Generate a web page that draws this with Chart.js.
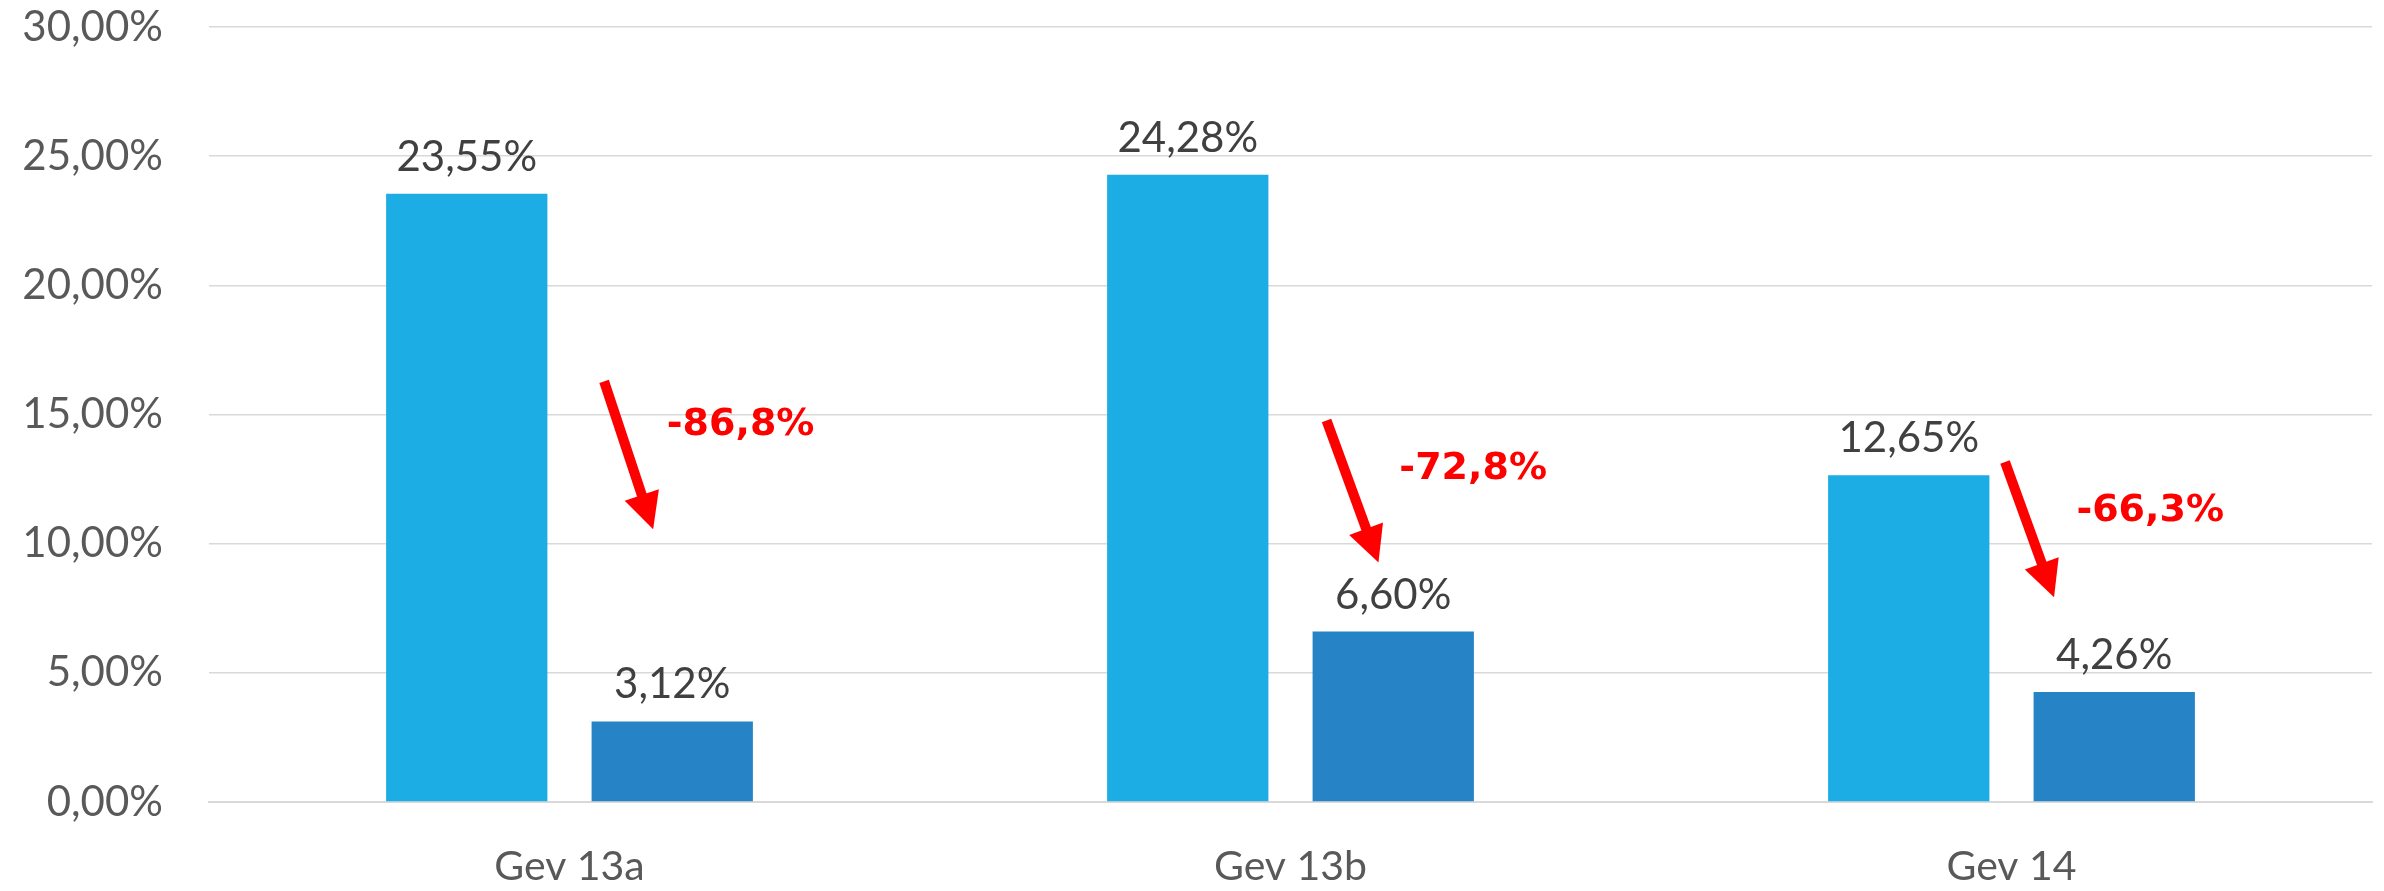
<!DOCTYPE html>
<html>
<head>
<meta charset="utf-8">
<script src="https://cdn.jsdelivr.net/npm/chart.js@4/dist/chart.umd.min.js"></script>
<style>
  html, body { margin: 0; padding: 0; background: #ffffff; }
</style>
</head>
<body>
<canvas id="c" width="2384" height="891" style="width:2384px;height:891px;display:block"></canvas>
<script>
// ---- data ----
const categories = ["Gev 13a", "Gev 13b", "Gev 14"];
const seriesBefore = [23.55, 24.28, 12.65];
const seriesAfter = [3.12, 6.60, 4.26];
const yTicks = [0, 5, 10, 15, 20, 25, 30];

// annotation anchors in data units (category index + fraction of category width, value in %)
const arrowStart = [[0, 0.048, 16.28], [1, 0.050, 14.77], [2, -0.009, 13.16]];
const arrowEnd   = [[0, 0.116, 10.56], [1, 0.122, 9.27], [2, 0.059, 7.93]];
const changeLabelPos = [[0, 0.135, 14.22], [1, 0.151, 12.50], [2, 0.090, 10.86]];

const fmt = v => v.toFixed(2).replace('.', ',') + '%';
const fmtChange = (a, b) => ((b - a) / a * 100).toFixed(1).replace('.', ',') + '%';

const valueLabels = {
  id: 'valueLabels',
  afterDatasetsDraw(chart) {
    const ctx = chart.ctx;
    ctx.save();
    ctx.font = '42px Lato';
    ctx.fillStyle = '#404040';
    ctx.textAlign = 'center';
    ctx.textBaseline = 'alphabetic';
    chart.data.datasets.forEach((ds, di) => {
      const meta = chart.getDatasetMeta(di);
      meta.data.forEach((bar, i) => {
        ctx.fillText(fmt(ds.data[i]), bar.x, bar.y - 23);
      });
    });
    ctx.restore();
  }
};

const changeArrows = {
  id: 'changeArrows',
  afterDatasetsDraw(chart) {
    const ctx = chart.ctx;
    const xs = chart.scales.x, ys = chart.scales.y;
    const catW = xs.getPixelForValue(1) - xs.getPixelForValue(0);
    const px = p => [xs.getPixelForValue(p[0]) + p[1] * catW, ys.getPixelForValue(p[2])];
    ctx.save();
    ctx.fillStyle = '#FF0000';
    ctx.strokeStyle = '#FF0000';
    categories.forEach((c, i) => {
      const [x1, y1] = px(arrowStart[i]);
      const [x2, y2] = px(arrowEnd[i]);
      const dx = x2 - x1, dy = y2 - y1;
      const len = Math.hypot(dx, dy);
      const ux = dx / len, uy = dy / len;
      const headLen = 36, headHalf = 18;
      const bx = x2 - ux * headLen, by = y2 - uy * headLen;
      ctx.lineWidth = 10;
      ctx.lineCap = 'butt';
      ctx.beginPath();
      ctx.moveTo(x1, y1);
      ctx.lineTo(bx + ux * 2, by + uy * 2);
      ctx.stroke();
      ctx.beginPath();
      ctx.moveTo(x2, y2);
      ctx.lineTo(bx - uy * headHalf, by + ux * headHalf);
      ctx.lineTo(bx + uy * headHalf, by - ux * headHalf);
      ctx.closePath();
      ctx.fill();
      const [tx, ty] = px(changeLabelPos[i]);
      ctx.font = 'bold 38px "DejaVu Sans"';
      ctx.textAlign = 'left';
      ctx.textBaseline = 'alphabetic';
      ctx.fillText(fmtChange(seriesBefore[i], seriesAfter[i]), tx, ty);
    });
    ctx.restore();
  }
};

new Chart(document.getElementById('c'), {
  type: 'bar',
  data: {
    labels: categories,
    datasets: [
      { label: 'Voor', data: seriesBefore, backgroundColor: '#1CADE4', categoryPercentage: 0.57, barPercentage: 0.785 },
      { label: 'Na', data: seriesAfter, backgroundColor: '#2683C6', categoryPercentage: 0.57, barPercentage: 0.785 }
    ]
  },
  options: {
    responsive: false,
    maintainAspectRatio: false,
    animation: false,
    devicePixelRatio: 1,
    layout: { padding: { top: 27, right: 12, bottom: 0, left: 0 } },
    plugins: { legend: { display: false }, tooltip: { enabled: false } },
    scales: {
      x: {
        grid: { display: false, drawTicks: false },
        border: { display: true, color: '#D9D9D9', width: 2 },
        ticks: { font: { family: 'Lato', size: 41 }, color: '#595959', padding: 40 },
        afterFit(s) { s.height = 89; }
      },
      y: {
        min: 0, max: 30,
        afterBuildTicks(s) { s.ticks = yTicks.map(v => ({ value: v })); },
        grid: { color: '#D9D9D9', lineWidth: 1.5, drawTicks: true, tickLength: 46, tickColor: 'rgba(0,0,0,0)' },
        border: { display: false },
        ticks: { font: { family: 'Lato', size: 42 }, color: '#595959', padding: 0, callback: v => fmt(v) },
        afterFit(s) { s.width = 209; }
      }
    }
  },
  plugins: [valueLabels, changeArrows]
});
</script>
</body>
</html>
